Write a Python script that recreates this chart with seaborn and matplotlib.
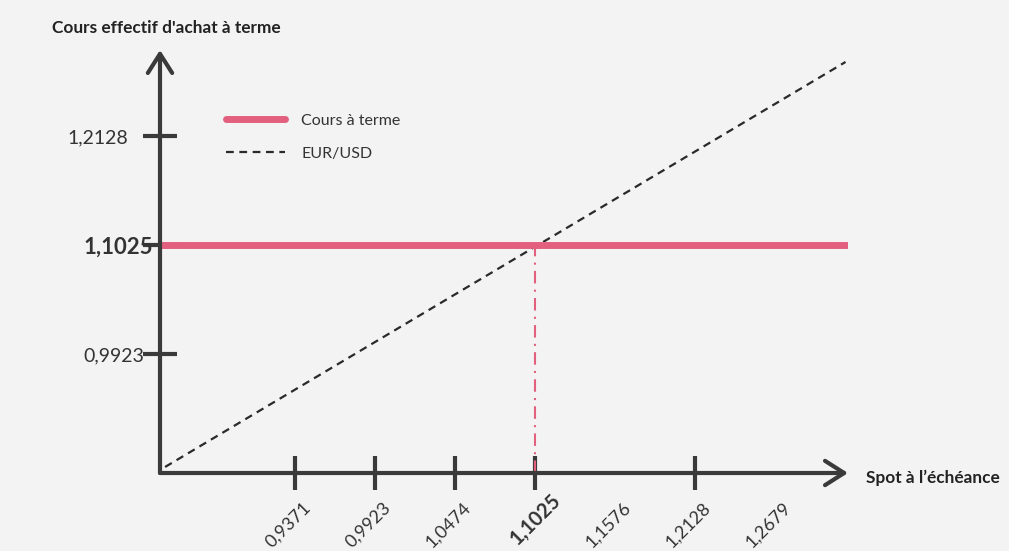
import matplotlib
matplotlib.use("Agg")
import matplotlib.pyplot as plt
import matplotlib.transforms as mtransforms
import seaborn as sns
import pandas as pd

# ---------------- data ----------------
x_ticks = [0.9371, 0.9923, 1.0474, 1.1025, 1.1576, 1.2128, 1.2679]
x_tick_labels = ["0,9371", "0,9923", "1,0474", "1,1025", "1,1576", "1,2128", "1,2679"]
x_tick_marked = [True, True, True, True, False, True, False]
y_ticks = [0.9923, 1.1025, 1.2128]
y_tick_labels = ["0,9923", "1,1025", "1,2128"]
forward_rate = 1.1025
forward_x = [0.8442, 1.318]
eurusd_x = [0.8477, 1.3163]
eurusd_y = [0.878, 1.2876]
x_limits = [0.8442, 1.318]
y_limits = [0.8719, 1.2997]

# ---------------- style ----------------
sns.set_theme(style="white")
plt.rcParams["font.family"] = ["Lato", "DejaVu Sans"]
bg = "#f3f3f3"
axis_col = "#3a3a3a"
pink = "#e2607e"

fig = plt.figure(figsize=(10.09, 5.51), dpi=100, facecolor=bg)
ax = fig.add_axes([160 / 1009, (551 - 473) / 551, 688 / 1009, 423 / 551])
ax.set_facecolor(bg)

df_fwd = pd.DataFrame({"x": forward_x, "y": [forward_rate] * len(forward_x)})
df_spot = pd.DataFrame({"x": eurusd_x, "y": eurusd_y})

sns.lineplot(data=df_fwd, x="x", y="y", ax=ax, color=pink, lw=5,
             label="Cours à terme", zorder=4)
sns.lineplot(data=df_spot, x="x", y="y", ax=ax, color="#2a2a2a", lw=1.6,
             linestyle=(0, (3.5, 2.5)), label="EUR/USD", zorder=3)
ax.plot([forward_rate, forward_rate], [y_limits[0], forward_rate], color=pink,
        lw=1.5, linestyle=(0, (6, 3, 1, 3)), zorder=3)

ax.set_xlim(*x_limits)
ax.set_ylim(*y_limits)
ax.set_xlabel("")
ax.set_ylabel("")
for s in ax.spines.values():
    s.set_visible(False)

# arrows for axes
arrow_kw = dict(arrowstyle="->,head_length=0.55,head_width=0.35", lw=3,
                color=axis_col, shrinkA=0, shrinkB=0, mutation_scale=25)
ax.annotate("", xy=(1, 0), xytext=(0, 0), xycoords="axes fraction",
            arrowprops=arrow_kw, annotation_clip=False, zorder=5)
ax.annotate("", xy=(0, 1), xytext=(0, 0), xycoords="axes fraction",
            arrowprops=arrow_kw, annotation_clip=False, zorder=5)

# ticks
ax.set_xticks(x_ticks)
ax.set_xticklabels(x_tick_labels, rotation=45, ha="center", va="top",
                   fontsize=13, color="#333333")
ax.set_yticks(y_ticks)
ax.set_yticklabels(y_tick_labels, fontsize=14, color="#333333")
ax.tick_params(axis="both", direction="inout", length=24, width=3,
               color=axis_col, bottom=True, left=True)
ax.tick_params(axis="x", pad=7)
shift = mtransforms.ScaledTranslation(-7 / 100, 0, fig.dpi_scale_trans)
for t, marked, txt in zip(ax.xaxis.get_major_ticks(), x_tick_marked, x_tick_labels):
    if not marked:
        t.tick1line.set_visible(False)
    t.label1.set_transform(t.label1.get_transform() + shift)
    if txt == "1,1025":
        t.set_pad(0)
        t.label1.set_fontweight("bold")
        t.label1.set_fontsize(14.5)
ypads = [-1, -7, 11]
for t, p, txt in zip(ax.yaxis.get_major_ticks(), ypads, y_tick_labels):
    t.set_pad(p)
    if txt == "1,1025":
        t.label1.set_fontweight("bold")
        t.label1.set_fontsize(16)

# axis titles
fig.text(52 / 1009, 1 - 28 / 551, "Cours effectif d'achat à terme",
         fontsize=12.4, fontweight="bold", color="#222222",
         ha="left", va="center")
fig.text(866 / 1009, 1 - 478 / 551, "Spot à l’échéance",
         fontsize=12.4, fontweight="bold", color="#222222",
         ha="left", va="center")

# legend
ax.legend(loc="upper left", bbox_to_anchor=(212 / 1009, 1 - 99 / 551),
          bbox_transform=fig.transFigure, frameon=False, fontsize=11.5,
          handlelength=3.7, handletextpad=1.0, labelspacing=1.2,
          labelcolor="#333333")

fig.savefig("out.png", dpi=100, facecolor=bg)
